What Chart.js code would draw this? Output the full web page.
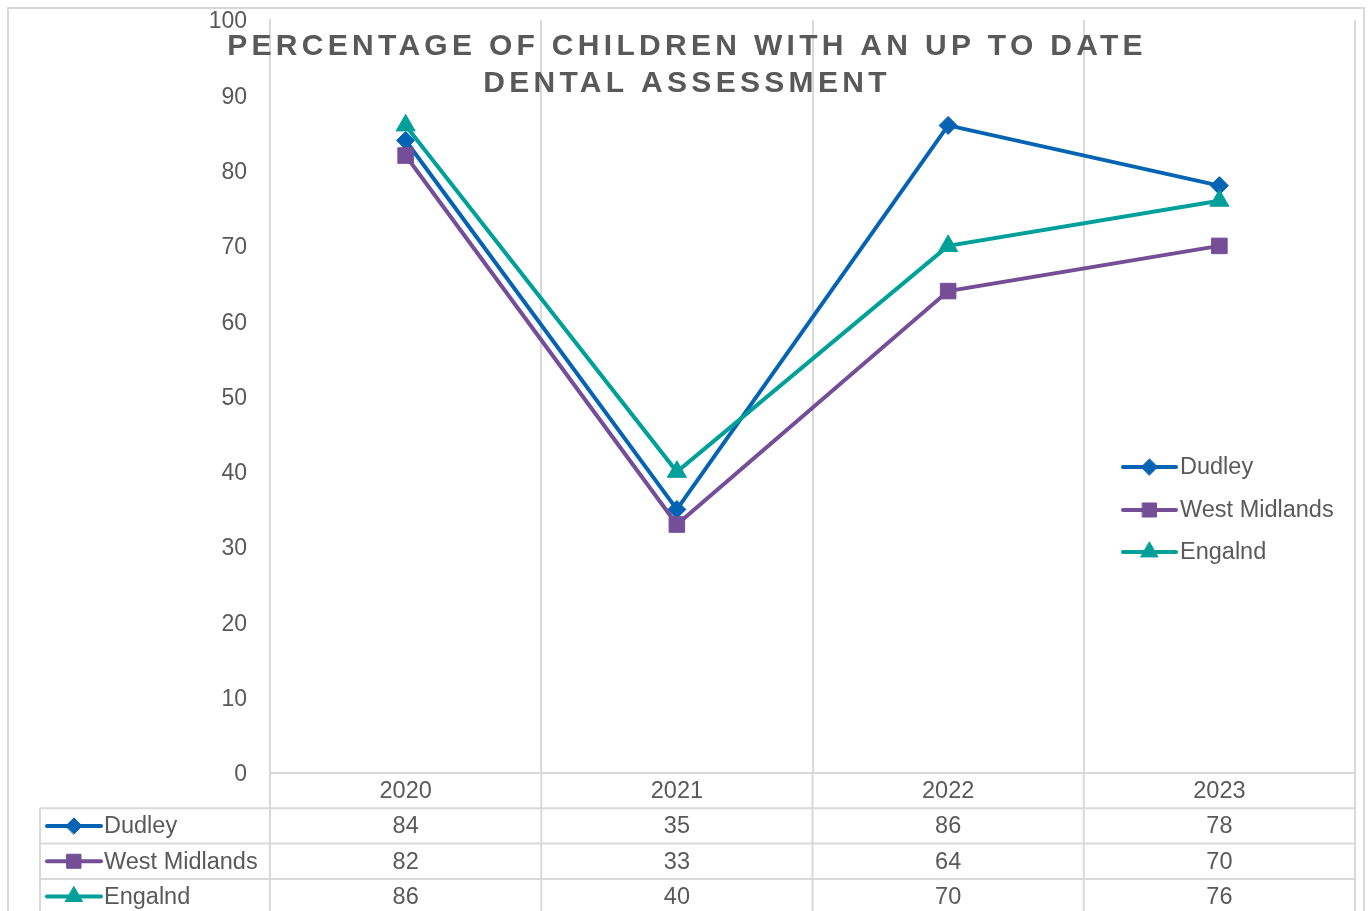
<!DOCTYPE html>
<html>
<head>
<meta charset="utf-8">
<script src="https://cdn.jsdelivr.net/npm/chart.js@4.4.1/dist/chart.umd.min.js"></script>
<style>
  html, body { margin: 0; padding: 0; background: #fff; }
  canvas { display: block; }
</style>
</head>
<body>
<canvas id="dentalChart" width="1368" height="911"></canvas>
<script>
// chart data
var years = ['2020', '2021', '2022', '2023'];
var dudley = [84, 35, 86, 78];
var westMidlands = [82, 33, 64, 70];
var england = [86, 40, 70, 76];
var seriesNames = ['Dudley', 'West Midlands', 'Engalnd'];
var titleLines = ['PERCENTAGE OF CHILDREN WITH AN UP TO DATE', 'DENTAL ASSESSMENT'];

// styles
var colours = ['#0563b4', '#744e97', '#00a09a'];
var markers = ['rectRot', 'rect', 'triangle'];
var markerSizes = [9, 11, 11];
var textColour = '#595959';
var lineColour = '#d9d9d9';
var fontFamily = '"Liberation Sans", Arial, sans-serif';

// draws a little line + marker key (legend and data table)
function drawKey(ctx, i, x1, x2, y) {
    ctx.save();
    ctx.strokeStyle = colours[i];
    ctx.lineWidth = 4;
    ctx.lineCap = 'round';
    ctx.beginPath();
    ctx.moveTo(x1, y);
    ctx.lineTo(x2, y);
    ctx.stroke();
    ctx.fillStyle = colours[i];
    ctx.lineWidth = 1;
    Chart.helpers.drawPoint(ctx, {
        pointStyle: markers[i],
        radius: markerSizes[i] * 0.9,
        rotation: 0,
        borderWidth: 1
    }, (x1 + x2) / 2, y);
    ctx.restore();
}

var extras = {
    id: 'extras',
    beforeDraw: function(chart) {
        var ctx = chart.ctx;
        ctx.save();
        ctx.fillStyle = '#fff';
        ctx.fillRect(0, 0, chart.width, chart.height);
        ctx.strokeStyle = lineColour;
        ctx.lineWidth = 2;
        ctx.strokeRect(8, 8, 1356, 940);
        ctx.restore();
    },
    afterDraw: function(chart) {
        var ctx = chart.ctx;
        var area = chart.chartArea;
        var xs = chart.scales.x;
        var rows = [dudley, westMidlands, england];
        var centres = years.map(function(y, i) { return xs.getPixelForValue(i); });
        var half = (centres[1] - centres[0]) / 2;
        var rowH = 35.3;
        var top = area.bottom;

        ctx.save();

        // data table grid
        ctx.strokeStyle = lineColour;
        ctx.lineWidth = 2;
        ctx.beginPath();
        for (var r = 1; r <= 4; r++) {
            ctx.moveTo(40, top + r * rowH);
            ctx.lineTo(area.right, top + r * rowH);
        }
        ctx.moveTo(40, top + rowH);
        ctx.lineTo(40, chart.height);
        var bounds = [area.left];
        for (var i = 0; i < centres.length - 1; i++) bounds.push(centres[i] + half);
        bounds.push(area.right);
        bounds.forEach(function(b) {
            ctx.moveTo(b, top);
            ctx.lineTo(b, chart.height);
        });
        ctx.stroke();

        // table text
        ctx.font = '23.5px ' + fontFamily;
        ctx.fillStyle = textColour;
        ctx.textAlign = 'center';
        ctx.textBaseline = 'middle';
        years.forEach(function(y, i) {
            ctx.fillText(y, centres[i], top + rowH / 2 + 1);
        });
        rows.forEach(function(vals, s) {
            var cy = top + (s + 1) * rowH + rowH / 2 + 1;
            vals.forEach(function(v, i) {
                ctx.fillText(String(v), centres[i], cy);
            });
        });
        ctx.textAlign = 'left';
        rows.forEach(function(vals, s) {
            var cy = top + (s + 1) * rowH + rowH / 2;
            drawKey(ctx, s, 47, 101, cy);
            ctx.fillStyle = textColour;
            ctx.fillText(seriesNames[s], 104, cy + 1);
        });

        // legend inside plot
        var legendY = [467, 510, 552];
        seriesNames.forEach(function(name, s) {
            drawKey(ctx, s, 1123, 1176, legendY[s]);
            ctx.fillStyle = textColour;
            ctx.fillText(name, 1180, legendY[s] + 1);
        });

        // overlay title
        ctx.font = 'bold 30px ' + fontFamily;
        ctx.letterSpacing = '4.3px';
        ctx.textAlign = 'center';
        ctx.fillStyle = textColour;
        ctx.fillText(titleLines[0], 687, 47);
        ctx.fillText(titleLines[1], 687, 84);

        ctx.restore();
    }
};

function makeSet(label, data, i, order) {
    return {
        label: label,
        data: data,
        borderColor: colours[i],
        backgroundColor: colours[i],
        borderWidth: 4,
        pointStyle: markers[i],
        pointRadius: markerSizes[i],
        pointBackgroundColor: colours[i],
        pointBorderColor: colours[i],
        pointBorderWidth: 1,
        tension: 0,
        order: order
    };
}

var ctx = document.getElementById('dentalChart');
var myLineChart = new Chart(ctx, {
    type: 'line',
    data: {
        labels: years,
        datasets: [
            makeSet(seriesNames[0], dudley, 0, 2),
            makeSet(seriesNames[1], westMidlands, 1, 1),
            makeSet(seriesNames[2], england, 2, 0)
        ]
    },
    options: {
        responsive: false,
        animation: false,
        devicePixelRatio: 1,
        layout: { padding: { left: 0, top: 20, right: 13, bottom: 0 } },
        plugins: {
            legend: { display: false },
            tooltip: { enabled: false },
            title: { display: false }
        },
        scales: {
            x: {
                type: 'category',
                offset: true,
                grid: { display: true, offset: true, color: lineColour, lineWidth: 2, drawTicks: false },
                border: { display: true, color: lineColour, width: 2 },
                ticks: { display: false },
                afterFit: function(scale) { scale.height = 138; }
            },
            y: {
                min: 0,
                max: 100,
                ticks: { stepSize: 10, color: textColour, font: { family: fontFamily, size: 23 }, padding: 23, labelOffset: 2 },
                grid: { display: false, drawTicks: false },
                border: { display: true, color: lineColour, width: 2 },
                afterFit: function(scale) {
                    scale.width = 270;
                    scale.paddingTop = 10;
                    scale.paddingBottom = 10;
                }
            }
        }
    },
    plugins: [extras]
});
</script>
</body>
</html>
